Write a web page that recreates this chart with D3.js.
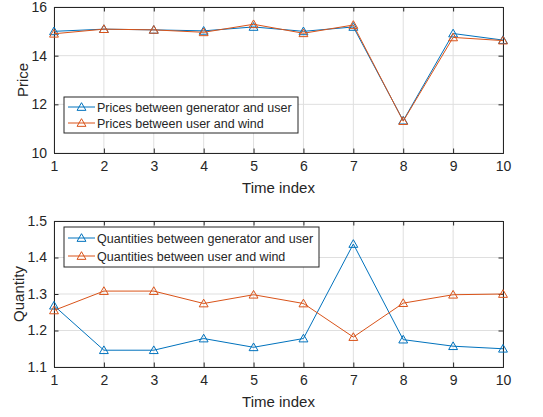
<!DOCTYPE html>
<html>
<head>
<meta charset="utf-8">
<script src="https://cdn.jsdelivr.net/npm/d3@7"></script>
<style>
  body { margin: 0; background: #fff; }
  svg text { font-family: "Liberation Sans", Arial, sans-serif; fill: #262626; }
</style>
</head>
<body>
<svg id="chart" width="543" height="417"></svg>
<script>
// ===== Data =====
const timeIndex = [1, 2, 3, 4, 5, 6, 7, 8, 9, 10];

const priceGenUser  = [15.00, 15.09, 15.06, 15.02, 15.18, 15.00, 15.18, 11.33, 14.91, 14.64];
const priceUserWind = [14.90, 15.09, 15.06, 14.96, 15.29, 14.92, 15.26, 11.31, 14.75, 14.62];

const qtyGenUser  = [1.268, 1.146, 1.146, 1.178, 1.154, 1.178, 1.437, 1.175, 1.157, 1.150];
const qtyUserWind = [1.255, 1.308, 1.308, 1.274, 1.298, 1.274, 1.182, 1.275, 1.298, 1.300];

const priceTicks = [10, 12, 14, 16];
const qtyTicks = [1.1, 1.2, 1.3, 1.4, 1.5];

const blue = "#0072BD";
const orange = "#D95319";

const svg = d3.select("#chart");

// ===== Panel =====
function drawPanel(opts) {
  const { top, bottom, left, right, yDomain, yTicks, yFmt, ylabel, ylabelX, series, legend } = opts;

  const x = d3.scaleLinear().domain([1, 10]).range([left, right]);
  const y = d3.scaleLinear().domain(yDomain).range([bottom, top]);
  const g = svg.append("g");

  // grid
  g.selectAll(".gx").data(timeIndex).enter().append("line")
    .attr("x1", d => x(d)).attr("x2", d => x(d))
    .attr("y1", top).attr("y2", bottom)
    .attr("stroke", "#dfdfdf").attr("stroke-width", 1);
  g.selectAll(".gy").data(yTicks).enter().append("line")
    .attr("x1", left).attr("x2", right)
    .attr("y1", d => y(d)).attr("y2", d => y(d))
    .attr("stroke", "#dfdfdf").attr("stroke-width", 1);

  // axes (ticks inward, mirrored)
  const tk = 4.5;
  g.append("g").attr("transform", `translate(0,${bottom})`)
    .call(d3.axisBottom(x).tickValues(timeIndex).tickSize(-tk).tickPadding(8).tickFormat(d3.format("d")));
  g.append("g").attr("transform", `translate(0,${top})`)
    .call(d3.axisTop(x).tickValues(timeIndex).tickSize(-tk).tickFormat(""));
  g.append("g").attr("transform", `translate(${left},0)`)
    .call(d3.axisLeft(y).tickValues(yTicks).tickSize(-tk).tickPadding(7).tickFormat(yFmt));
  g.append("g").attr("transform", `translate(${right},0)`)
    .call(d3.axisRight(y).tickValues(yTicks).tickSize(-tk).tickFormat(""));

  g.selectAll(".domain").attr("stroke", "#262626").attr("stroke-width", 1);
  g.selectAll(".tick line").attr("stroke", "#262626");
  g.selectAll(".tick text").style("font-size", "14px").attr("fill", "#262626");

  // axis labels
  g.append("text")
    .attr("x", (left + right) / 2).attr("y", bottom + 40)
    .attr("text-anchor", "middle").style("font-size", "15px")
    .text("Time index");
  g.append("text")
    .attr("transform", `translate(${ylabelX},${(top + bottom) / 2}) rotate(-90)`)
    .attr("text-anchor", "middle").style("font-size", "15px")
    .text(ylabel);

  // lines + markers
  const line = d3.line().x((d, i) => x(timeIndex[i])).y(d => y(d));
  const tri = d3.symbol().type(d3.symbolTriangle).size(34);
  series.forEach(s => {
    g.append("path").datum(s.values)
      .attr("d", line).attr("fill", "none")
      .attr("stroke", s.color).attr("stroke-width", 1);
    g.selectAll(null).data(s.values).enter().append("path")
      .attr("d", tri)
      .attr("transform", (d, i) => `translate(${x(timeIndex[i])},${y(d) + 0.8})`)
      .attr("fill", "none").attr("stroke", s.color).attr("stroke-width", 1);
  });

  // legend
  const lg = g.append("g");
  lg.append("rect")
    .attr("x", legend.x).attr("y", legend.y)
    .attr("width", legend.w).attr("height", legend.h)
    .attr("fill", "#fff").attr("stroke", "#262626").attr("stroke-width", 1);
  series.forEach((s, i) => {
    const cy = legend.y + legend.h * (i + 0.5) / 2 + (i === 0 ? 1 : -1);
    lg.append("line")
      .attr("x1", legend.x + 4).attr("x2", legend.x + 31)
      .attr("y1", cy).attr("y2", cy)
      .attr("stroke", s.color).attr("stroke-width", 1);
    lg.append("path").attr("d", tri)
      .attr("transform", `translate(${legend.x + 17.5},${cy + 0.8})`)
      .attr("fill", "none").attr("stroke", s.color);
    lg.append("text")
      .attr("x", legend.x + 33).attr("y", cy + 4.5)
      .style("font-size", "12.5px")
      .text(s.name);
  });
}

drawPanel({
  top: 7, bottom: 153, left: 54, right: 503,
  yDomain: [10, 16], yTicks: priceTicks, yFmt: d3.format("d"),
  ylabel: "Price", ylabelX: 28,
  series: [
    { name: "Prices between generator and user", values: priceGenUser, color: blue },
    { name: "Prices between user and wind", values: priceUserWind, color: orange }
  ],
  legend: { x: 64, y: 97, w: 234, h: 36 }
});

drawPanel({
  top: 221, bottom: 367, left: 54, right: 503,
  yDomain: [1.1, 1.5], yTicks: qtyTicks, yFmt: d3.format(".1f"),
  ylabel: "Quantity", ylabelX: 24,
  series: [
    { name: "Quantities between generator and user", values: qtyGenUser, color: blue },
    { name: "Quantities between user and wind", values: qtyUserWind, color: orange }
  ],
  legend: { x: 64, y: 227, w: 255, h: 40 }
});
</script>
</body>
</html>
